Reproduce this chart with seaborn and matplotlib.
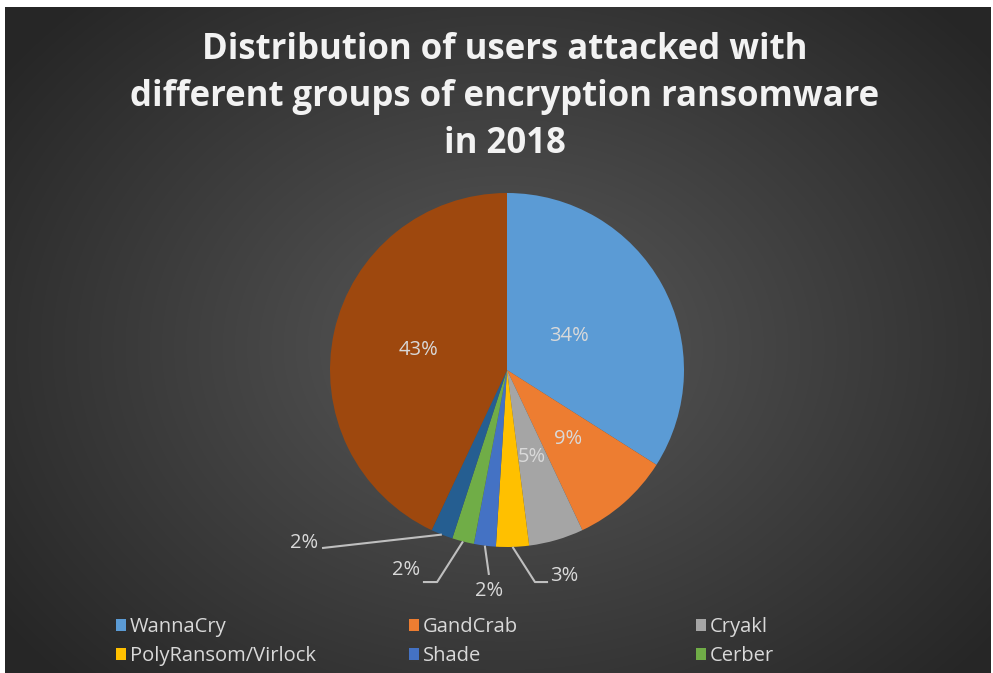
import numpy as np
import seaborn as sns
import matplotlib.pyplot as plt

# data (clockwise from 12 o'clock)
groups = ['WannaCry', 'GandCrab', 'Cryakl', 'PolyRansom/Virlock', 'Shade', 'Cerber', 'Group 7', 'Other']
shares = [34, 9, 5, 3, 2, 2, 2, 43]
colors = ['#5B9BD5', '#ED7D31', '#A5A5A5', '#FFC000', '#4472C4', '#70AD47', '#255E91', '#9E480E']
legend_groups = groups[:6]  # only these are visible in the legend
title = 'Distribution of users attacked with\ndifferent groups of encryption ransomware\nin 2018'

sns.set_theme(style='dark')
plt.rcParams['font.family'] = ['Open Sans', 'DejaVu Sans']
txt_col = '#D9D9D9'

W, H = 993, 673
fig = plt.figure(figsize=(W / 100, H / 100), dpi=100, facecolor='white')

# dark radial gradient background (with the thin white border of the screenshot)
bg = fig.add_axes([5 / W, 0, (W - 7) / W, (H - 7) / H])
yy, xx = np.mgrid[0:H - 7, 0:W - 7]
d = np.sqrt(((xx - 500) / 620) ** 2 + ((yy - 340) / 480) ** 2)
shade = 0.35 - 0.2 * np.clip(d, 0, 1)
bg.imshow(np.dstack([shade] * 3), aspect='auto', interpolation='bilinear')
bg.axis('off')

# pie axes: centre at (507, 370) px, radius 177 px
cx, cy, r = 507, 370, 177
half = 250
ax = fig.add_axes([(cx - half) / W, (H - cy - half) / H, 2 * half / W, 2 * half / H])
ax.set_facecolor('none')
wedges, _ = ax.pie(shares, colors=colors, startangle=90, counterclock=False,
                   wedgeprops=dict(linewidth=0))
lim = half / r
ax.set_xlim(-lim, lim)
ax.set_ylim(-lim, lim)
ax.axis('off')

def mid_dir(w):
    a = np.deg2rad((w.theta1 + w.theta2) / 2)
    return np.cos(a), np.sin(a)

# inside labels
inside_r = [0.40, 0.52, 0.51, None, None, None, None, 0.51]
for w, s, rr in zip(wedges, shares, inside_r):
    if rr is None:
        continue
    dx, dy = mid_dir(w)
    ax.text(dx * rr, dy * rr, f'{s}%', color=txt_col, fontsize=14.5, ha='center', va='center')

# outside labels with leader lines: (path points after edge, text pos, ha)
outside = {
    3: ([(0.158, -1.198), (0.232, -1.198)], (0.245, -1.163), 'left'),
    4: ([(-0.102, -1.158)], (-0.102, -1.250), 'center'),
    5: ([(-0.395, -1.198), (-0.475, -1.198)], (-0.49, -1.128), 'right'),
    6: ([(-1.045, -1.006)], (-1.065, -0.977), 'right'),
}
for i, (pts, tpos, ha) in outside.items():
    dx, dy = mid_dir(wedges[i])
    path = [(dx, dy)] + pts
    ax.plot([p[0] for p in path], [p[1] for p in path], color='#BFBFBF', lw=1.5,
            solid_capstyle='butt')
    ax.text(tpos[0], tpos[1], f'{shares[i]}%', color=txt_col, fontsize=14.5, ha=ha, va='center')

fig.text(505 / W, 1 - 97 / H, title, color='#F2F2F2', fontsize=25, fontweight='bold',
         ha='center', va='center', linespacing=1.42)

# legend: three columns of two entries
col_x = [116, 409, 696]
for c, x in enumerate(col_x):
    idx = [c, c + 3]
    leg = fig.legend([wedges[i] for i in idx], [legend_groups[i] for i in idx],
                     loc='upper left', bbox_to_anchor=(x / W, 1 - 617 / H),
                     frameon=False, fontsize=14.5, labelcolor=txt_col,
                     handlelength=0.5, handleheight=0.5, handletextpad=0.2,
                     labelspacing=0.45, borderpad=0, borderaxespad=0)

fig.savefig('out.png', dpi=100, facecolor='white')
